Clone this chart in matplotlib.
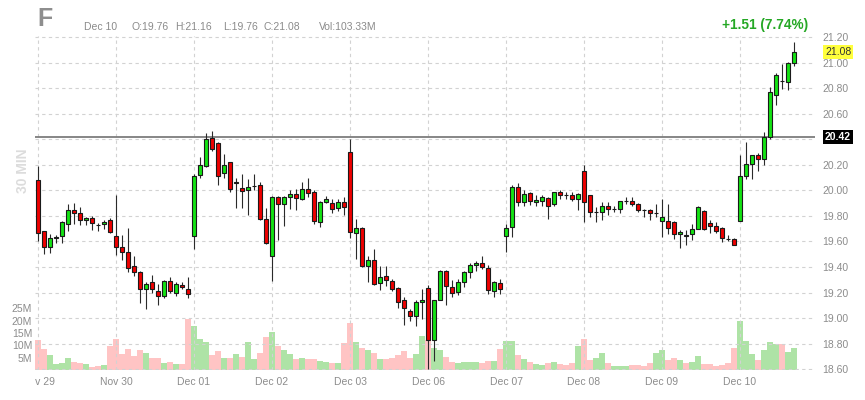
import matplotlib
matplotlib.use("Agg")
import matplotlib.pyplot as plt
from matplotlib.transforms import Bbox, TransformedBbox
import numpy as np

# ---------------- data ----------------
day_labels = ["Nov 29", "Nov 30", "Dec 01", "Dec 02", "Dec 03",
              "Dec 06", "Dec 07", "Dec 08", "Dec 09", "Dec 10"]
bars_per_day = [13, 13, 13, 13, 13, 13, 13, 13, 13, 10]

opens = [
    20.08, 19.68, 19.56, 19.625, 19.64, 19.735, 19.85, 19.82, 19.765, 19.785, 19.73, 19.735, 19.77,
    19.645, 19.555, 19.52, 19.405, 19.36, 19.23, 19.28, 19.215, 19.17, 19.29, 19.20, 19.26, 19.23,
    19.64, 20.12, 20.19, 20.41, 20.37, 20.135, 20.22, 20.06, 20.015, 20.00, 20.035, 20.04, 19.775,
    19.49, 19.95, 19.895, 19.945, 19.975, 19.935, 20.01, 19.99, 19.755, 19.91, 19.90, 19.865, 19.905,
    20.30, 19.665, 19.705, 19.41, 19.455, 19.275, 19.33, 19.29, 19.235, 19.14, 19.055, 19.02, 19.125,
    19.235, 18.825, 19.14, 19.365, 19.245, 19.205, 19.28, 19.36, 19.415, 19.43, 19.39, 19.215, 19.275,
    19.64, 19.71, 20.025, 19.91, 19.98, 19.91, 19.92, 19.94, 19.89, 19.99, 19.965, 19.96, 19.93,
    20.15, 19.96, 19.83, 19.83, 19.88, 19.855, 19.855, 19.918, 19.915, 19.895, 19.847, 19.845, 19.82,
    19.757, 19.757, 19.75, 19.655, 19.648, 19.655, 19.70, 19.835, 19.745, 19.72, 19.705, 19.623, 19.62,
    19.76, 20.115, 20.205, 20.275, 20.245, 20.42, 20.745, 20.855, 20.85, 20.995,
]
highs = [
    20.19, 19.68, 19.66, 19.65, 19.76, 19.89, 19.90, 19.87, 19.795, 19.80, 19.745, 19.77, 19.78,
    19.96, 19.65, 19.705, 19.485, 19.37, 19.285, 19.335, 19.265, 19.30, 19.325, 19.285, 19.285, 19.32,
    20.13, 20.26, 20.445, 20.465, 20.375, 20.285, 20.225, 20.10, 20.125, 20.085, 20.125, 20.065, 19.86,
    19.955, 19.955, 19.955, 20.00, 20.01, 20.065, 20.10, 20.00, 19.915, 19.955, 19.93, 19.935, 19.95,
    20.405, 19.775, 19.71, 19.49, 19.54, 19.405, 19.405, 19.305, 19.245, 19.165, 19.075, 19.14, 19.23,
    19.26, 19.145, 19.375, 19.375, 19.30, 19.305, 19.365, 19.435, 19.45, 19.49, 19.415, 19.29, 19.305,
    19.74, 20.045, 20.06, 20.00, 19.985, 19.965, 19.96, 19.945, 19.99, 20.00, 19.99, 19.985, 19.98,
    20.195, 19.965, 19.87, 19.91, 19.91, 19.88, 19.92, 19.945, 19.945, 19.90, 19.855, 19.855, 19.895,
    19.935, 19.895, 19.757, 19.69, 19.687, 19.74, 19.875, 19.845, 19.765, 19.75, 19.71, 19.653, 19.627,
    20.275, 20.38, 20.28, 20.29, 20.455, 20.81, 20.915, 20.985, 21.005, 21.16,
]
lows = [
    19.60, 19.50, 19.51, 19.59, 19.59, 19.685, 19.735, 19.725, 19.725, 19.69, 19.685, 19.70, 19.665,
    19.495, 19.455, 19.36, 19.33, 19.12, 19.075, 19.195, 19.10, 19.16, 19.195, 19.175, 19.225, 19.155,
    19.54, 20.095, 20.18, 20.31, 20.045, 20.10, 19.985, 19.86, 19.86, 19.81, 20.00, 19.77, 19.58,
    19.29, 19.61, 19.72, 19.855, 19.85, 19.925, 19.95, 19.735, 19.71, 19.90, 19.82, 19.84, 19.81,
    19.625, 19.46, 19.40, 19.285, 19.26, 19.22, 19.25, 19.215, 19.08, 18.95, 18.98, 18.935, 18.995,
    18.60, 18.665, 19.14, 19.105, 19.165, 19.18, 19.245, 19.315, 19.365, 19.385, 19.185, 19.165, 19.185,
    19.52, 19.635, 19.875, 19.88, 19.885, 19.88, 19.875, 19.775, 19.88, 19.93, 19.93, 19.92, 19.85,
    19.755, 19.795, 19.75, 19.77, 19.81, 19.83, 19.825, 19.89, 19.875, 19.83, 19.795, 19.765, 19.79,
    19.635, 19.66, 19.62, 19.545, 19.575, 19.61, 19.695, 19.69, 19.665, 19.67, 19.595, 19.60, 19.57,
    19.76, 20.09, 20.085, 20.155, 20.20, 20.405, 20.67, 20.795, 20.785, 20.97,
]
closes = [
    19.67, 19.56, 19.63, 19.635, 19.75, 19.85, 19.82, 19.77, 19.785, 19.745, 19.728, 19.755, 19.675,
    19.56, 19.52, 19.39, 19.36, 19.23, 19.27, 19.23, 19.17, 19.29, 19.21, 19.265, 19.24, 19.19,
    20.11, 20.20, 20.40, 20.32, 20.11, 20.20, 20.01, 20.062, 19.995, 20.03, 20.037, 19.775, 19.59,
    19.95, 19.89, 19.945, 19.975, 19.94, 20.01, 19.98, 19.76, 19.91, 19.935, 19.855, 19.905, 19.87,
    19.675, 19.705, 19.41, 19.455, 19.27, 19.32, 19.295, 19.23, 19.125, 19.08, 19.02, 19.125, 19.145,
    18.825, 19.14, 19.365, 19.25, 19.195, 19.28, 19.36, 19.415, 19.435, 19.40, 19.22, 19.28, 19.225,
    19.705, 20.025, 19.91, 19.975, 19.915, 19.925, 19.945, 19.875, 19.985, 19.965, 19.962, 19.935, 19.97,
    19.91, 19.83, 19.832, 19.875, 19.855, 19.857, 19.915, 19.92, 19.895, 19.845, 19.845, 19.825, 19.822,
    19.79, 19.705, 19.66, 19.675, 19.646, 19.70, 19.87, 19.70, 19.72, 19.685, 19.625, 19.621, 19.575,
    20.11, 20.205, 20.275, 20.245, 20.42, 20.77, 20.90, 20.853, 20.995, 21.08,
]
volumes_m = [
    12.2, 8.5, 6.1, 2.4, 2.8, 4.9, 3.4, 3.0, 2.4, 1.4, 1.6, 2.0, 9.7,
    12.6, 6.5, 8.4, 5.7, 8.1, 7.0, 4.9, 4.9, 2.8, 3.2, 2.4, 2.4, 20.7,
    17.8, 12.6, 11.4, 6.1, 7.7, 4.9, 4.9, 6.5, 5.3, 11.4, 4.5, 6.9, 13.4,
    15.4, 9.7, 8.1, 6.5, 4.5, 4.9, 4.5, 4.5, 3.6, 3.2, 2.8, 2.8, 10.9,
    19.2, 11.5, 8.8, 8.1, 6.8, 4.3, 4.3, 4.7, 6.1, 7.7, 4.7, 6.5, 13.8,
    12.0, 9.0, 8.3, 5.1, 3.4, 3.0, 3.2, 3.2, 3.2, 3.0, 3.6, 3.6, 8.5,
    11.9, 11.9, 6.2, 4.6, 3.4, 2.6, 2.2, 3.0, 3.4, 2.6, 2.2, 3.0, 9.9,
    12.7, 4.2, 4.9, 6.9, 3.0, 1.8, 1.8, 1.8, 2.2, 2.2, 1.8, 3.0, 6.9,
    8.1, 4.2, 4.9, 4.2, 3.0, 3.4, 5.8, 2.6, 2.6, 1.8, 2.2, 3.0, 8.8,
    19.7, 11.6, 6.4, 4.2, 8.3, 11.2, 10.4, 10.4, 7.2, 8.8,
]
price_ticks = [18.6, 18.8, 19.0, 19.2, 19.4, 19.6, 19.8, 20.0, 20.2, 20.4, 20.6, 20.8, 21.0, 21.2]
volume_ticks_m = [5, 10, 15, 20, 25]
ref_level = 20.42
last_price = 21.08
header_symbol = "F"
header_fields = ["Dec 10", "O:19.76", "H:21.16", "L:19.76", "C:21.08", "Vol:103.33M"]
change_text = "+1.51 (7.74%)"
interval_text = "30 MIN"

# ---------------- figure ----------------
plt.rcParams["font.family"] = ["Liberation Sans", "DejaVu Sans"]
W, H = 865, 400
fig = plt.figure(figsize=(W / 100, H / 100), dpi=100)
fig.patch.set_facecolor("white")

L, R, T, B = 35, 815, 36, 370
rect = [L / W, 1 - B / H, (R - L) / W, (B - T) / H]

vax = fig.add_axes(rect)
ax = fig.add_axes(rect, sharex=vax)
ax.patch.set_visible(False)

n = len(opens)
x = np.arange(n)
o = np.array(opens); h = np.array(highs); lo = np.array(lows); c = np.array(closes)
up = c >= o

# volume
vol = np.array(volumes_m) * 1e6
vcols = np.where(up, "#aee3a6", "#ffc4c4")
vax.bar(x, vol, width=0.86, color=vcols, linewidth=0, zorder=2)
vax.set_ylim(0, 135.4e6)
vax.set_xlim(-0.5, 129.5)
vax.set_yticks([v * 1e6 for v in volume_ticks_m])
vax.set_yticklabels([f"{v}M" for v in volume_ticks_m])
vax.tick_params(axis="y", length=0, pad=2, labelsize=7.5, labelcolor="#8c8c8c")
vax.tick_params(axis="x", length=0, labelbottom=False)
for s in vax.spines.values():
    s.set_visible(False)

# price
day_starts = np.cumsum([0] + bars_per_day[:-1])
ax.set_ylim(18.594, 21.208)
ax.set_xlim(-0.5, 129.5)
ax.yaxis.tick_right()
ax.set_yticks(price_ticks)
ax.set_yticklabels(["" if abs(p - 20.4) < 1e-9 else f"{p:.2f}" for p in price_ticks])
ax.tick_params(axis="y", length=0, pad=5, labelsize=7.5, labelcolor="#8c8c8c")
ax.set_xticks(day_starts)
ax.tick_params(axis="x", length=0, labelbottom=False)
ax.grid(True, color="#d2d2d2", linestyle=(0, (3, 3)), linewidth=0.8, zorder=0)
for s in ax.spines.values():
    s.set_visible(False)

ax.axhline(ref_level, color="#7d7d7d", linewidth=1.3, zorder=3)

# candles
ax.vlines(x, lo, h, color="#2a2a2a", linewidth=0.8, zorder=4)
body_bottom = np.minimum(o, c)
body_h = np.maximum(np.abs(c - o), 0.0005)
ccols = np.where(up, "#14e314", "#ee0000")
ax.bar(x, body_h, bottom=body_bottom, width=0.8, color=ccols,
       edgecolor="#1a1a1a", linewidth=0.8, zorder=5)

# date labels (first one clipped at the panel edge like the original)
clip = TransformedBbox(Bbox([[L / W, 0], [1, 1]]), fig.transFigure)
for xs, lab in zip(day_starts, day_labels):
    t = ax.text(xs, -0.036, lab, transform=ax.get_xaxis_transform(),
                ha="center", va="center", fontsize=7.5, color="#8c8c8c")
    t.set_clip_box(clip)
    t.set_clip_on(True)

# price boxes
ax.text(1 + 10 / (R - L), ref_level, f"{ref_level:.2f}", transform=ax.get_yaxis_transform(),
        ha="left", va="center", fontsize=7.5, fontweight="bold", color="white",
        bbox=dict(boxstyle="square,pad=0.18", fc="black", ec="none"), zorder=6, clip_on=False)
ax.text(1 + 10 / (R - L), last_price, f"{last_price:.2f}", transform=ax.get_yaxis_transform(),
        ha="left", va="center", fontsize=7.5, color="#333333",
        bbox=dict(boxstyle="square,pad=0.18", fc="#ffff3c", ec="none"), zorder=6, clip_on=False)

# header
fig.text(37 / W, 1 - 19 / H, header_symbol, fontsize=18, fontweight="bold",
         color="#8e8e8e", ha="left", va="center")
hx = [84, 132, 175, 223, 264, 319]
for px, s in zip(hx, header_fields):
    fig.text(px / W, 1 - 27 / H, s, fontsize=7.5, color="#8a8a8a", ha="left", va="center")
fig.text(808 / W, 1 - 25.5 / H, change_text, fontsize=9.8, fontweight="bold",
         color="#25a825", ha="right", va="center")
fig.text(23 / W, 1 - 171 / H, interval_text, fontsize=10, fontweight="bold",
         color="#dcdcdc", rotation=90, ha="center", va="center")

fig.savefig("out.png", dpi=100, facecolor="white")
